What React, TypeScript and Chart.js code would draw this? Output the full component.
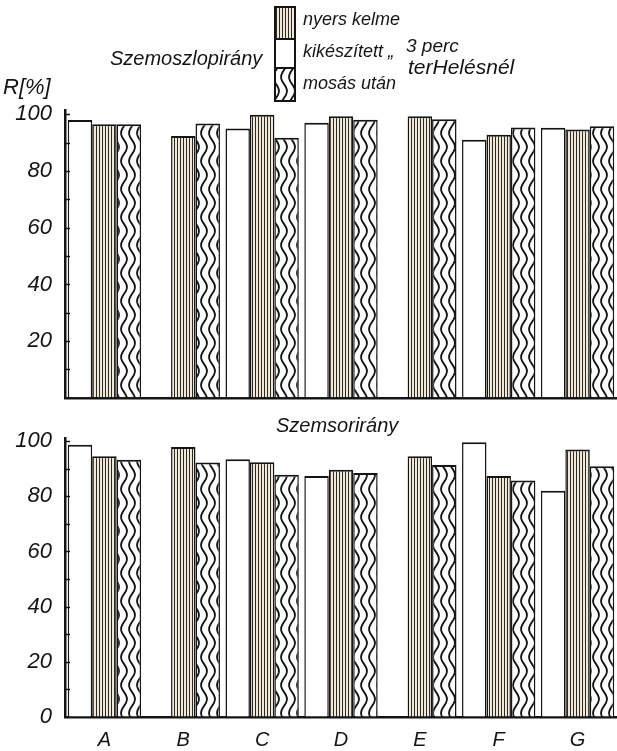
import React, { useEffect, useRef } from "react";
import { Chart, registerables } from "chart.js";

Chart.register(...registerables);

// ---------- data ----------
const categories = ["A", "B", "C", "D", "E", "F", "G"];
const legendLabels = ["nyers kelme", "kikészített „", "mosás után"];

// Szemoszlopirány (top panel)
const topWhite = [98, null, 95, 97, null, 91, 95.2];
const topStriped = [96.5, 92.3, 99.8, 99.3, 99.3, 92.8, 94.6];
const topWavy = [96.5, 96.7, 91.7, 98.1, 98.2, 95.3, 95.8];

// Szemsorirány (bottom panel)
const bottomWhite = [98.6, null, 93.4, 87.3, null, 99.5, 82];
const bottomStriped = [94.5, 97.8, 92.3, 89.6, 94.5, 87.3, 96.9];
const bottomWavy = [93.2, 92.2, 87.8, 88.4, 91.3, 85.7, 90.8];

const topTickLabels = [20, 40, 60, 80, 100];
const bottomTickLabels = [0, 20, 40, 60, 80, 100];

const topTitle = "Szemoszlopirány";
const bottomTitle = "Szemsorirány";
const yAxisTitle = "R[%]";
const noteLines = ["3 perc", "terHelésnél"];

const FONT = '"Liberation Sans", Arial, sans-serif';
const INK = "#141414";

// ---------- patterns ----------
function makeStripes(): CanvasPattern | string {
  const c = document.createElement("canvas");
  c.width = 3;
  c.height = 4;
  const g = c.getContext("2d");
  if (!g) return "#ccc";
  g.fillStyle = "#f1e9d6";
  g.fillRect(0, 0, 3, 4);
  g.fillStyle = "#2a2a2a";
  g.fillRect(0, 0, 1, 4);
  return g.createPattern(c, "repeat") || "#ccc";
}

function makeWaves(): CanvasPattern | string {
  const w = 8;
  const h = 28;
  const c = document.createElement("canvas");
  c.width = w;
  c.height = h;
  const g = c.getContext("2d");
  if (!g) return "#eee";
  g.fillStyle = "#ffffff";
  g.fillRect(0, 0, w, h);
  g.strokeStyle = INK;
  g.lineWidth = 1.9;
  g.beginPath();
  for (let y = -2; y <= h + 2; y += 0.5) {
    const x = w / 2 + 2.9 * Math.sin((2 * Math.PI * y) / h);
    if (y === -2) g.moveTo(x, y);
    else g.lineTo(x, y);
  }
  g.stroke();
  return g.createPattern(c, "repeat") || "#eee";
}

// ---------- plugins ----------
const innerTicks = {
  id: "innerTicks",
  afterDatasetsDraw(chart: any) {
    const y = chart.scales.y;
    const ctx = chart.ctx;
    ctx.save();
    ctx.strokeStyle = INK;
    ctx.lineWidth = 1.5;
    y.ticks.forEach((t: any) => {
      if (t.value === 0) return;
      const py = Math.round(y.getPixelForValue(t.value)) + 0.5;
      ctx.beginPath();
      ctx.moveTo(y.right, py);
      ctx.lineTo(y.right + 5, py);
      ctx.stroke();
    });
    ctx.restore();
  },
};

function text(ctx: CanvasRenderingContext2D, s: string, x: number, y: number, size: number) {
  ctx.font = `italic ${size}px ${FONT}`;
  ctx.fillStyle = INK;
  ctx.textAlign = "left";
  ctx.textBaseline = "middle";
  ctx.fillText(s, x, y);
}

const topDecor = {
  id: "topDecor",
  afterDraw(chart: any) {
    const ctx = chart.ctx as CanvasRenderingContext2D;
    ctx.save();
    text(ctx, yAxisTitle, 3, 88, 22);
    text(ctx, topTitle, 110, 59, 20);
    // legend: stacked boxes (striped, white, wavy)
    const ds = chart.data.datasets;
    const boxes = [
      { d: ds[1], y0: 7, y1: 39, ty: 20 },
      { d: ds[0], y0: 39, y1: 68, ty: 52 },
      { d: ds[2], y0: 68, y1: 101, ty: 84 },
    ];
    boxes.forEach((b) => {
      ctx.fillStyle = b.d.backgroundColor;
      ctx.fillRect(275, b.y0, 20, b.y1 - b.y0);
      ctx.strokeStyle = INK;
      ctx.lineWidth = 2;
      ctx.strokeRect(275, b.y0, 20, b.y1 - b.y0);
      text(ctx, b.d.label, 303, b.ty, 18);
    });
    text(ctx, noteLines[0], 406, 47, 19);
    text(ctx, noteLines[1], 408, 68, 21);
    ctx.restore();
  },
};

const bottomDecor = {
  id: "bottomDecor",
  afterDraw(chart: any) {
    const ctx = chart.ctx as CanvasRenderingContext2D;
    ctx.save();
    text(ctx, bottomTitle, 276, 14, 20);
    ctx.restore();
  },
};

// ---------- chart builder ----------
function buildConfig(
  white: (number | null)[],
  striped: (number | null)[],
  wavy: (number | null)[],
  tickLabels: number[],
  yMax: number,
  showX: boolean,
  padding: any,
  xHeight: number,
  plugins: any[]
): any {
  const stripes = makeStripes();
  const waves = makeWaves();
  const common = {
    borderColor: INK,
    borderWidth: { top: 2, left: 1.5, right: 1.5, bottom: 0 },
    borderSkipped: "bottom",
    categoryPercentage: 0.93,
    barPercentage: 1.0,
  };
  return {
    type: "bar",
    data: {
      labels: categories,
      datasets: [
        { label: legendLabels[1], data: white, backgroundColor: "#ffffff", ...common },
        { label: legendLabels[0], data: striped, backgroundColor: stripes, ...common },
        { label: legendLabels[2], data: wavy, backgroundColor: waves, ...common },
      ],
    },
    options: {
      responsive: false,
      animation: false,
      devicePixelRatio: 1,
      layout: { padding },
      plugins: { legend: { display: false }, tooltip: { enabled: false }, title: { display: false } },
      scales: {
        x: {
          type: "category",
          afterFit: (s: any) => {
            s.height = xHeight;
          },
          grid: { display: true, drawOnChartArea: false, drawTicks: false },
          border: { display: true, color: INK, width: 2.5 },
          ticks: {
            display: showX,
            padding: 11,
            color: INK,
            font: { family: FONT, size: 20, style: "italic" },
          },
        },
        y: {
          min: 0,
          max: yMax,
          afterFit: (s: any) => {
            s.width = 65;
          },
          grid: { display: true, drawOnChartArea: false, drawTicks: false },
          border: { display: true, color: INK, width: 2.5 },
          ticks: {
            stepSize: 10,
            includeBounds: false,
            autoSkip: false,
            padding: 13,
            color: INK,
            font: { family: FONT, size: 22, style: "italic" },
            callback: (v: any) => (tickLabels.includes(Number(v)) ? String(v) : ""),
          },
        },
      },
    },
    plugins: [innerTicks, ...plugins],
  };
}

export default function App() {
  const topRef = useRef<HTMLCanvasElement | null>(null);
  const botRef = useRef<HTMLCanvasElement | null>(null);

  useEffect(() => {
    if (!topRef.current || !botRef.current) return;
    const top = new Chart(
      topRef.current,
      buildConfig(topWhite, topStriped, topWavy, topTickLabels, 101.5, false,
        { top: 110, right: 0, bottom: 0, left: 0 }, 14, [topDecor])
    );
    const bottom = new Chart(
      botRef.current,
      buildConfig(bottomWhite, bottomStriped, bottomWavy, bottomTickLabels, 101, true,
        { top: 17, right: 0, bottom: 0, left: 0 }, 34, [bottomDecor])
    );
    return () => {
      top.destroy();
      bottom.destroy();
    };
  }, []);

  return (
    <div style={{ position: "absolute", left: 0, top: 0, width: 617, height: 751, background: "#fff", overflow: "hidden" }}>
      <canvas ref={topRef} width={617} height={424} style={{ position: "absolute", left: 0, top: 0, width: 617, height: 424 }} />
      <canvas ref={botRef} width={617} height={339} style={{ position: "absolute", left: 0, top: 412, width: 617, height: 339 }} />
    </div>
  );
}
